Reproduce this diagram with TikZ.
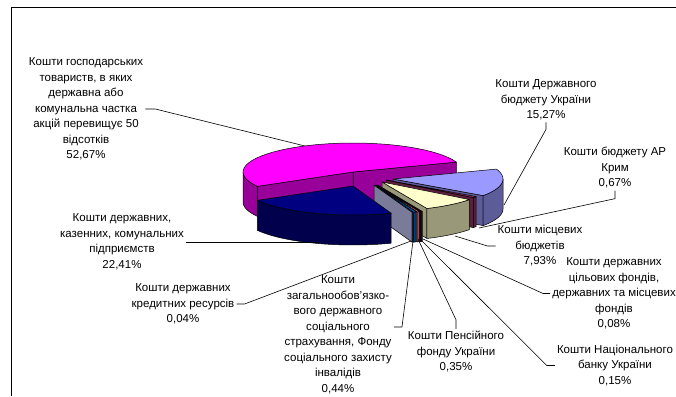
\documentclass[tikz,border=0pt]{standalone}
\usepackage{fontspec}
\setmainfont{Liberation Sans}
\definecolor{magT}{HTML}{FF00FF}\definecolor{magS}{HTML}{990099}
\definecolor{navT}{HTML}{000080}\definecolor{navS}{HTML}{00004D}
\definecolor{stT}{HTML}{9999FF}\definecolor{stS}{HTML}{5C5C99}
\definecolor{crT}{HTML}{993366}\definecolor{crS}{HTML}{5C1F3D}
\definecolor{loT}{HTML}{FFFFCC}\definecolor{loS}{HTML}{99997A}
\definecolor{aT}{HTML}{CCFFFF}\definecolor{aS}{HTML}{7A9999}
\definecolor{bT}{HTML}{660066}\definecolor{bS}{HTML}{3D003D}
\definecolor{cT}{HTML}{FF8080}\definecolor{cS}{HTML}{994D4D}
\definecolor{dT}{HTML}{0066CC}\definecolor{dS}{HTML}{003D7A}
\definecolor{eT}{HTML}{CCCCFF}\definecolor{eS}{HTML}{7A7A99}
\def\PRx{110}\def\PRy{29}\def\PHh{30}
% #1 ox #2 oy #3 start #4 end #5 top colour #6 side colour #7-#8 visible outer side range
\newcommand{\pslice}[8]{%
  \pgfmathtruncatemacro{\pvs}{cos(#3)>0}%
  \pgfmathtruncatemacro{\pve}{cos(#4)<0}%
  \ifnum\pvs=1
    \filldraw[face, fill=#6] (#1,#2) -- ({#1+\PRx*cos(#3)},{#2-\PRy*sin(#3)}) -- ++(0,\PHh) -- (#1,#2+\PHh) -- cycle;
  \fi
  \ifnum\pve=1
    \filldraw[face, fill=#6] (#1,#2) -- ({#1+\PRx*cos(#4)},{#2-\PRy*sin(#4)}) -- ++(0,\PHh) -- (#1,#2+\PHh) -- cycle;
  \fi
  \filldraw[face, fill=#6] plot[domain=#7:#8, samples=30] ({#1+\PRx*cos(\x)},{#2-\PRy*sin(\x)})
     -- plot[domain=#8:#7, samples=30] ({#1+\PRx*cos(\x)},{#2+\PHh-\PRy*sin(\x)}) -- cycle;
  \filldraw[face, fill=#5] (#1,#2) -- plot[domain=#3:#4, samples=40] ({#1+\PRx*cos(\x)},{#2-\PRy*sin(\x)}) -- cycle;
}
\tikzset{
  face/.style={draw=black, line width=0.5pt, line join=round},
  leader/.style={draw=black, line width=0.6pt},
  lbl/.style={align=center, font=\fontsize{11.5}{15.5}\selectfont, inner sep=2pt}
}
\begin{document}
\begin{tikzpicture}[x=1pt,y=-1pt]
\useasboundingbox (0,0) rectangle (676,396);
\fill[white] (0,0) rectangle (676,396);
\draw[black, line width=1.3pt] (676,7.5) -- (11.5,7.5) -- (11.5,396);

% pie slices, back to front
\pslice{353}{172}{20}{209.61}{magT}{magS}{180}{209.61}
\pslice{393}{179}{325.06}{380}{stT}{stS}{325.06}{360}
\pslice{386}{180}{322.65}{325.06}{crT}{crS}{322.65}{325.06}
\pslice{382}{182}{294.10}{322.65}{loT}{loS}{294.10}{322.65}
\pslice{377.5}{185}{293.81}{294.10}{aT}{aS}{293.81}{294.10}
\pslice{377}{185}{293.27}{293.81}{bT}{bS}{293.27}{293.81}
\pslice{376}{185}{292.01}{293.27}{cT}{cS}{292.01}{293.27}
\pslice{375}{185}{290.43}{292.01}{dT}{dS}{290.43}{292.01}
\pslice{374}{185}{290.29}{290.43}{eT}{eS}{290.29}{290.43}
\pslice{353}{186}{209.61}{290.29}{navT}{navS}{209.61}{290.29}

% labels
\node[lbl] (L1) at (86,109) {Кошти господарських\\товариств, в яких\\державна або\\комунальна частка\\акцій перевищує 50\\відсотків\\52,67\%};
\node[lbl] (L2) at (546,100) {Кошти Державного\\бюджету України\\15,27\%};
\node[lbl] (L3) at (615,168) {Кошти бюджету АР\\Крим\\0,67\%};
\node[lbl] (L4) at (540,246) {Кошти місцевих\\бюджетів\\7,93\%};
\node[lbl] (L5) at (614,293.5) {Кошти державних\\цільових фондів,\\державних та місцевих\\фондів\\0,08\%};
\node[lbl] (L6) at (615,365.5) {Кошти Національного\\банку України\\0,15\%};
\node[lbl] (L7) at (456,351.5) {Кошти Пенсійного\\фонду України\\0,35\%};
\node[lbl] (L8) at (338,335) {Кошти\\загальнообов’язко-\\вого державного\\соціального\\страхування, Фонду\\соціального захисту\\інвалідів\\0,44\%};
\node[lbl] (L9) at (183,304) {Кошти державних\\кредитних ресурсів\\0,04\%};
\node[lbl] (L10) at (122,242) {Кошти державних,\\казенних, комунальних\\підприємств\\22,41\%};

% leader end points on the pie
\coordinate (p1) at (305,146);
\coordinate (p2) at (504,205);
\coordinate (p3) at (479,228);
\coordinate (p4) at (455,236);
\coordinate (p5) at (423,239);
\coordinate (p6) at (420,239);
\coordinate (p7) at (418,239);
\coordinate (p8) at (413,241);
\coordinate (p9) at (411,241);
\coordinate (p10) at (318,242);

\draw[leader] (L1.east) -- ++(10,0) -- (p1);
\draw[leader] (L2.south) -- ++(0,7) -- (p2);
\draw[leader] (L3.south) -- ++(0,8) -- (p3);
\draw[leader] (L4.west) -- ++(-8,0) -- (p4);
\draw[leader] (L5.west) -- ++(-7,0) -- (p5);
\draw[leader] (L6.west) -- ++(-8,0) -- (p6);
\draw[leader] (L7.north) -- ++(0,-9) -- (p7);
\draw[leader] (L8.east) ++(0,-8) -- ++(8,0) -- (p8);
\draw[leader] (L9.east) -- ++(8,0) -- (p9);
\draw[leader] (L10.east) -- (p10);
\end{tikzpicture}
\end{document}
